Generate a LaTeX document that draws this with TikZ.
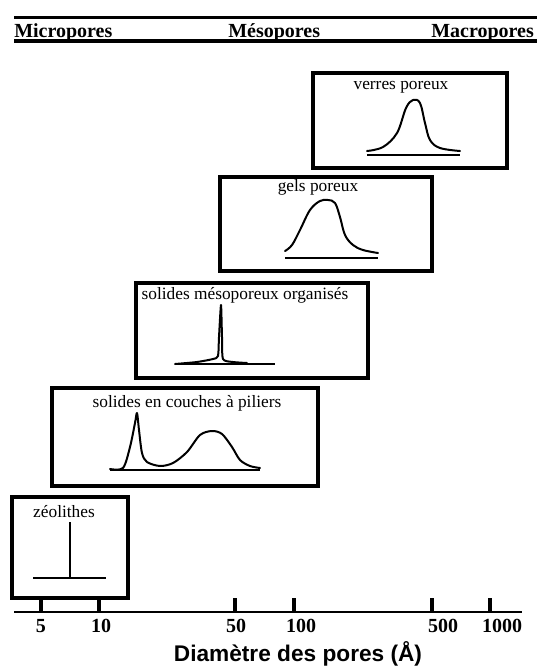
\documentclass[tikz,border=0pt]{standalone}
\usepackage{fontspec}
\setmainfont{Liberation Serif}
\newfontfamily\axisfont{Liberation Sans}
\usepackage{tikz}
\usetikzlibrary{calc,positioning}

\begin{document}
\begin{tikzpicture}[x=0.75pt,y=-0.75pt,
  panel/.style={draw, line width=2.6pt, inner sep=0pt},
  curve/.style={line width=1.5pt, line join=round, line cap=round},
  base/.style={line width=1.1pt},
  lbl/.style={inner sep=0pt, anchor=base, font=\fontsize{13}{15}\selectfont},
  head/.style={inner sep=0pt, anchor=base west, font=\bfseries\fontsize{15}{17}\selectfont},
  ticklbl/.style={inner sep=0pt, anchor=base, font=\bfseries\fontsize{15}{17}\selectfont}]
  \useasboundingbox (0,0) rectangle (537,668);

  % header rules and size classes
  \coordinate (rtopL) at (14,17.5);
  \coordinate (rtopR) at (537,17.5);
  \coordinate (rbotL) at (14,41);
  \coordinate (rbotR) at (537,41);
  \draw[line width=2.6pt] (rtopL) -- (rtopR);
  \draw[line width=2.6pt] (rbotL) -- (rbotR);
  \node[head] (micro) at (14,37) {Micropores};
  \node[head] (meso) at (228,37) {Mésopores};
  \node[head] (macro) at (431,37) {Macropores};

  % panels
  \node[panel, minimum width=145.5pt, minimum height=71.25pt] (verres) at (410,120.5) {};
  \node[panel, minimum width=159pt, minimum height=70.5pt] (gels) at (326,224) {};
  \node[panel, minimum width=174pt, minimum height=71.25pt] (mesorg) at (252,330.5) {};
  \node[panel, minimum width=199.5pt, minimum height=73.5pt] (couches) at (185,437) {};
  \node[panel, minimum width=87pt, minimum height=75.75pt] (zeo) at (70,547.5) {};

  \node[lbl] (verreslbl) at (401,89) {verres poreux};
  \node[lbl] (gelslbl) at (318,191) {gels poreux};
  \node[lbl] (mesorglbl) at (245,299) {solides mésoporeux organisés};
  \node[lbl] (coucheslbl) at (187,407) {solides en couches à piliers};
  \node[lbl] (zeolbl) at (64,517) {zéolithes};

  % verres poreux
  \draw[base] (367,155) -- (460,155);
  \draw[curve] plot[smooth, tension=0.6] coordinates {(367,151) (383,147) (397,133)
    (406,108) (413,100) (420,103) (425,123) (430,140) (440,148) (460,151)};

  % gels poreux
  \draw[base] (285,258) -- (378,258);
  \draw[curve] plot[smooth, tension=0.6] coordinates {(285,251) (292,245) (300,230)
    (310,210) (320,201) (328,200) (335,203) (340,217) (345,235) (353,245) (363,250) (378,253)};

  % solides mesoporeux organises
  \draw[base] (175,364) -- (275,364);
  \draw[curve] plot[smooth, tension=0.4] coordinates {(175,364) (197,362) (213,359)
    (218,356) (219,337) (221,305) (222,337) (223,359) (233,362) (247,363)};

  % solides en couches a piliers
  \draw[base] (110,470) -- (260,470);
  \draw[curve] plot[smooth, tension=0.5] coordinates {(110,469) (123,468) (130,447)
    (135,423) (137,413) (139,430) (142,453) (147,462) (160,466) (173,463) (187,452)
    (200,435) (212,431) (222,434) (232,447) (240,460) (250,466) (260,468)};

  % zeolithes
  \draw[base] (33,578) -- (106,578);
  \draw[line width=1.4pt] (70,578) -- (70,522);

  % axis
  \coordinate (axL) at (14,612);
  \coordinate (axR) at (522,612);
  \draw[line width=1.6pt] (axL) -- (axR);
  \foreach \x/\lx/\v in {41/41/5, 99/101/10, 235/236/50, 294/301/100, 432/443/500, 490/502/1000} {
    \coordinate (t\v) at (\x,612);
    \draw[line width=2.6pt] (t\v) -- ++(0,-14);
    \node[ticklbl] (l\v) at (\lx,632) {\v};
  }
  \node[inner sep=0pt, anchor=base, font=\axisfont\bfseries\fontsize{17}{20}\selectfont] (axtitle) at (298,661) {Diamètre des pores (Å)};
\end{tikzpicture}
\end{document}
